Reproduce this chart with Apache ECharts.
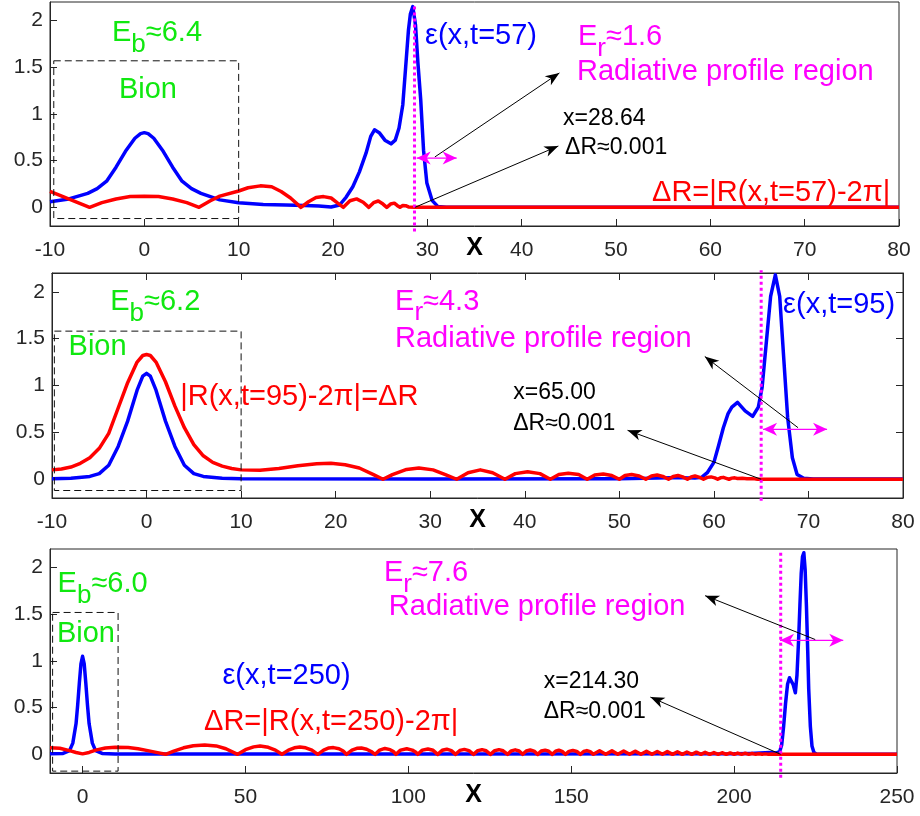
<!DOCTYPE html>
<html>
<head>
<meta charset="utf-8">
<script src="https://cdn.jsdelivr.net/npm/echarts@6/dist/echarts.min.js"></script>
<style>
  html, body { margin: 0; padding: 0; background: #fff; }
  #chart { width: 920px; height: 816px; }
</style>
</head>
<body>
<div id="chart"></div>
<script>
// ---- tick values ----
const yTicks = [0, 0.5, 1, 1.5, 2];
const xTicksLong = [0, 50, 100, 150, 200, 250];

// ---- t = 57 : energy density and |R - 2pi| ----
const eps57 = [
  [-10,0.06],[-8,0.09],[-6,0.15],[-5,0.2],[-4,0.28],[-3,0.43],[-2,0.6],[-1,0.74],[-0.4,0.79],[0,0.8],
  [0.4,0.79],[1,0.74],[2,0.6],[3,0.43],[4,0.28],[5,0.2],[6,0.15],[8,0.08],[10,0.05],[12.6,0.03],
  [15,0.025],[17,0.02],[18.5,0.015],[19.8,0.003],[20.7,0.025],[21.4,0.11],[22.1,0.22],[22.8,0.38],
  [23.5,0.58],[24.0,0.76],[24.4,0.83],[24.9,0.8],[25.5,0.72],[26.15,0.68],[26.6,0.72],[27.0,0.85],
  [27.4,1.1],[27.7,1.5],[28.0,1.9],[28.2,2.07],[28.46,2.15],[28.75,1.95],[29.0,1.55],[29.3,1.15],
  [29.6,0.61],[29.95,0.26],[30.5,0.075],[31.1,0.01],[32,0.002],[80,0.001]
];
const dR57 = [
  [-10,0.17],[-5.8,0],[-4.5,0.05],[-3,0.09],[-1.5,0.115],[0,0.12],[1.5,0.115],[3,0.09],[4.5,0.05],
  [5.8,0],[7,0.07],[8,0.12],[10,0.175],[11,0.21],[12.3,0.23],[13.5,0.22],[14.5,0.17],[15.5,0.1],
  [16.6,0],[17.4,0.06],[18.2,0.105],[19,0.115],[19.8,0.1],[20.5,0.045],[21.1,0],[21.8,0.07],
  [22.5,0.09],[23.2,0.055],[23.8,0],[24.3,0.05],[24.8,0.068],[25.3,0.035],[25.7,0],[26.1,0.035],
  [26.5,0.045],[26.8,0.02],[27.1,0],[27.4,0.02],[27.7,0.018],[28.0,0.004],[28.64,0.001],[80,0.001]
];

// ---- t = 95 ----
const eps95 = [
  [-10,0.005],[-8,0.01],[-6,0.03],[-5,0.06],[-4,0.15],[-3,0.35],[-2,0.62],[-1,0.95],[-0.4,1.1],[0,1.13],
  [0.4,1.1],[1,0.95],[2,0.62],[3,0.35],[4,0.15],[5,0.06],[6,0.03],[8,0.01],[10,0.005],[30,0.004],
  [50,0.005],[54,0.012],[56,0.018],[58,0.012],[58.7,0.02],[59.3,0.07],[60.0,0.18],[60.5,0.36],
  [61.0,0.55],[61.5,0.7],[61.9,0.77],[62.5,0.82],[63.3,0.73],[64.1,0.67],[64.7,0.77],[65.1,0.98],
  [65.6,1.52],[66.0,1.95],[66.5,2.18],[66.96,1.95],[67.4,1.27],[67.8,0.66],[68.3,0.23],[68.8,0.05],
  [69.5,0.01],[70.5,0.003],[80,0.002]
];
const dR95 = [
  [-10,0.1],[-9,0.11],[-8,0.13],[-7,0.17],[-6,0.23],[-5,0.33],[-4,0.49],[-3,0.76],[-2,1.03],[-1,1.25],
  [-0.4,1.32],[0,1.33],[0.4,1.32],[1,1.25],[2,1.04],[3,0.78],[4,0.55],[5,0.37],[6,0.25],[7,0.18],
  [8,0.14],[9,0.115],[10,0.1],[12,0.095],[14,0.115],[16,0.145],[18,0.165],[19.5,0.17],[21,0.155],
  [22.5,0.12],[24,0.05],[25,0],[26,0.05],[27.5,0.105],[28.8,0.12],[30.3,0.1],[31.6,0.05],[32.8,0],
  [34,0.07],[35.3,0.1],[36.6,0.07],[37.9,0],[39,0.06],[40.3,0.08],[41.6,0.06],[42.7,0],[43.6,0.05],
  [44.6,0.065],[45.7,0.05],[46.6,0],[47.4,0.045],[48.3,0.055],[49.2,0.04],[50,0],[50.6,0.04],
  [51.3,0.05],[52.1,0.035],[52.8,0],[53.4,0.035],[54,0.045],[54.6,0.03],[55.2,0],[55.7,0.03],
  [56.2,0.04],[56.7,0.025],[57.2,0],[57.6,0.025],[58,0.035],[58.5,0.02],[58.9,0],[59.3,0.02],
  [59.7,0.025],[60.1,0.015],[60.4,0],[60.7,0.015],[61,0.02],[61.3,0.01],[61.6,0],[61.9,0.012],
  [62.2,0.015],[62.5,0.008],[62.7,0],[63,0.01],[63.2,0.01],[63.5,0.005],[63.7,0],[64.0,0.006],
  [64.3,0.004],[64.6,0.001],[65,0.001],[80,0.001]
];

// ---- t = 250 ----
const eps250 = [
  [-10,0.005],[-6,0.01],[-4,0.04],[-3,0.12],[-2,0.33],[-1.5,0.53],[-1,0.76],[-0.5,0.97],[0,1.05],
  [0.5,0.97],[1,0.76],[1.5,0.53],[2,0.33],[3,0.12],[4,0.04],[6,0.01],[10,0.003],[100,0.003],
  [200,0.005],[205,0.01],[208,0.015],[211,0.02],[213,0.015],[214,0.03],[214.6,0.1],[215.2,0.3],
  [215.8,0.55],[216.4,0.75],[217,0.82],[217.5,0.84],[218.1,0.75],[218.8,0.66],[219.3,0.85],
  [219.8,1.23],[220.2,1.6],[220.6,1.94],[221,2.12],[221.4,2.16],[221.8,1.98],[222.2,1.59],
  [222.6,1.1],[222.9,0.7],[223.4,0.3],[223.9,0.09],[224.5,0.02],[225.2,0.003],[250,0.002]
];
const dR250 = [
  [-10,0.07],[-7,0.065],[-4,0.04],[-2,0.02],[0,0.005],[2,0.02],[4,0.045],[7,0.068],[10,0.075],
  [14,0.072],[17,0.06],[20,0.04],[23,0.018],[25.5,0],[28,0.035],[31,0.07],[34,0.092],[37.5,0.1],
  [41,0.09],[44,0.06],[47.6,0],[50,0.05],[52.5,0.08],[54.5,0.09],[57,0.075],[59.2,0.045],[61.2,0],
  [63.2,0.045],[65,0.07],[66.7,0.078],[68.5,0.07],[70.4,0.045],[72.2,0],[74,0.045],[75.6,0.068],
  [77,0.072],[78.7,0.06],[80,0.035],[81,0],[82.7,0.045],[84.2,0.065],[85.6,0.068],[87.2,0.055],
  [88.6,0.03],[89.8,0],[91.2,0.045],[92.8,0.063],[94.4,0.05],[95.4,0.03],[96.2,0],[97.6,0.045],
  [99.5,0.06],[101.2,0.045],[102.2,0.025],[102.9,0],[104.3,0.045],[106,0.057],[107.6,0.043],[109,0],
  [110.4,0.043],[111.8,0.055],[113.2,0.04],[114.5,0],[115.8,0.042],[117.2,0.053],[118.6,0.04],[120,0],
  [121.3,0.04],[122.6,0.05],[123.9,0.038],[125.2,0],[126.5,0.04],[127.8,0.05],[129.1,0.038],[130.5,0],
  [131.6,0.037],[132.8,0.048],[134,0.036],[135.1,0],[136.2,0.036],[137.4,0.046],[138.6,0.034],[139.7,0],
  [140.8,0.035],[142,0.045],[143.1,0.033],[144.2,0],[145.2,0.034],[146.2,0.044],[147.2,0.032],[148.2,0],
  [149.3,0.032],[150.5,0.042],[151.7,0.031],[152.8,0],[153.8,0.03],[154.8,0.04],[155.8,0.029],[156.8,0],
  [158.7,0.038],[160.6,0],[162.5,0.037],[164.3,0],[166.1,0.035],[167.9,0],[169.6,0.034],[171.4,0],
  [173.1,0.032],[174.8,0],[176.4,0.03],[178,0],[179.5,0.029],[181.1,0],[182.6,0.027],[184.1,0],
  [185.5,0.025],[187,0],[188.4,0.023],[189.8,0],[191.1,0.021],[192.5,0],[193.8,0.019],[195.1,0],
  [196.3,0.017],[197.6,0],[198.8,0.015],[200,0],[201.1,0.013],[202.3,0],[203.4,0.011],[204.5,0],
  [205.5,0.009],[206.6,0],[207.6,0.007],[208.6,0],[209.5,0.005],[210.5,0],[211.4,0.004],[212.3,0],
  [213.2,0.002],[214.3,0.001],[250,0.001]
];

// ---- styling ----
const FONT = "'Liberation Sans', Arial, Helvetica, sans-serif";
const INK = '#262626';
const BLUE = '#0000ff', RED = '#ff0000', MAGENTA = '#ff00ff', GREEN = '#10e810', BLACK = '#000000';

const panels = [
  { grid: { left: 50, top: 2, width: 849, height: 224 }, xMin: -10, xMax: 80, step: 10, eps: eps57, dR: dR57, box: false },
  { grid: { left: 52, top: 273, width: 851, height: 225 }, xMin: -10, xMax: 80, step: 10, eps: eps95, dR: dR95, box: true },
  { grid: { left: 50, top: 549, width: 847, height: 224 }, xMin: -10, xMax: 250, ticks: xTicksLong, eps: eps250, dR: dR250, box: false }
];

const chart = echarts.init(document.getElementById('chart'), null, { renderer: 'canvas' });

const grids = [], xAxes = [], yAxes = [], series = [];
const tickStyle = { inside: true, length: 7, lineStyle: { color: INK, width: 1 } };
const lineStyleAxis = { show: true, onZero: false, lineStyle: { color: INK, width: 1 } };

panels.forEach((p, i) => {
  grids.push(Object.assign({ show: true, borderColor: INK, borderWidth: 1, backgroundColor: 'transparent',
    containLabel: false, outerBoundsMode: 'none' }, p.grid));
  const xa = {
    gridIndex: i, type: 'value', min: p.xMin, max: p.xMax, position: 'bottom',
    axisLine: lineStyleAxis, splitLine: { show: false },
    axisTick: Object.assign({}, tickStyle),
    axisLabel: { color: INK, fontSize: 21, fontFamily: FONT, margin: 14 },
    name: 'X', nameLocation: 'middle', nameGap: 8, nameMoveOverlap: false,
    nameTextStyle: { fontSize: 25, fontWeight: 'bold', color: BLACK, fontFamily: FONT,
      verticalAlign: 'top', lineHeight: 28 }
  };
  if (p.step) { xa.interval = p.step; }
  if (p.ticks) {
    xa.axisTick.customValues = p.ticks;
    xa.axisLabel.customValues = p.ticks;
  }
  xAxes.push(xa);
  yAxes.push({
    gridIndex: i, type: 'value', min: -0.2, max: 2.2, position: 'left',
    axisLine: lineStyleAxis, splitLine: { show: false },
    axisTick: Object.assign({ customValues: yTicks }, tickStyle),
    axisLabel: { customValues: yTicks, color: INK, fontSize: 21, fontFamily: FONT, margin: 7 }
  });
  series.push({
    type: 'line', xAxisIndex: i, yAxisIndex: i, data: p.eps, showSymbol: false, symbol: 'none',
    lineStyle: { color: BLUE, width: 3.5, join: 'round' }, z: 2, silent: true
  });
  series.push({
    type: 'line', xAxisIndex: i, yAxisIndex: i, data: p.dR, showSymbol: false, symbol: 'none',
    lineStyle: { color: RED, width: 3.5, join: 'round' }, z: 3, silent: true
  });
});

// mirrored ticks on the framed middle panel
panels.forEach((p, i) => {
  if (!p.box) return;
  xAxes.push({
    gridIndex: i, type: 'value', min: p.xMin, max: p.xMax, interval: p.step, position: 'top',
    axisLine: lineStyleAxis, splitLine: { show: false }, axisTick: Object.assign({}, tickStyle),
    axisLabel: { show: false }
  });
  yAxes.push({
    gridIndex: i, type: 'value', min: -0.2, max: 2.2, position: 'right',
    axisLine: lineStyleAxis, splitLine: { show: false },
    axisTick: Object.assign({ customValues: yTicks }, tickStyle),
    axisLabel: { show: false }
  });
});

chart.setOption({
  animation: false,
  backgroundColor: '#ffffff',
  grid: grids, xAxis: xAxes, yAxis: yAxes, series: series
});

// ---- annotations (data coordinates of each panel) ----
const notes = [
  {
    vline: [28.64, -0.26, 2.18],
    box: [-9.6, -0.12, 10, 1.57],
    texts: [
      { at: [-3.43, 1.864], t: '{g|E}{gs|b}{g|≈6.4}' },
      { at: [-2.69, 1.254], t: '{g|Bion}' },
      { at: [29.75, 1.832], t: '{b|ε(x,t=57)}' },
      { at: [45.97, 1.821], t: '{p|E}{ps|r}{p|≈1.6}' },
      { at: [45.87, 1.446], t: '{p|Radiative profile region}' },
      { at: [44.38, 0.911], t: '{k|x=28.64}' },
      { at: [44.6, 0.6], t: '{k|ΔR≈0.001}' },
      { at: [53.82, 0.15], t: '{r|ΔR=|R(x,t=57)-2π|}' }
    ],
    arrows: [[30.8, 0.54, 44.0, 1.44], [28.69, 0, 43.89, 0.657]],
    span: [28.87, 33.11, 0.528]
  },
  {
    vline: [65.0, -0.23, 2.23],
    box: [-9.75, -0.12, 10, 1.58],
    texts: [
      { at: [-3.84, 1.883], t: '{g|E}{gs|b}{g|≈6.2}' },
      { at: [-8.25, 1.406], t: '{g|Bion}' },
      { at: [3.56, 0.874], t: '{r||R(x,t=95)-2π|=ΔR}' },
      { at: [26.28, 1.888], t: '{p|E}{ps|r}{p|≈4.3}' },
      { at: [26.28, 1.491], t: '{p|Radiative profile region}' },
      { at: [67.32, 1.856], t: '{b|ε(x,t=95)}' },
      { at: [38.78, 0.883], t: '{k|x=65.00}' },
      { at: [38.78, 0.561], t: '{k|ΔR≈0.001}' }
    ],
    arrows: [[68.9, 0.55, 59.04, 1.309], [65.0, 0, 50.87, 0.522]],
    span: [65.2, 71.97, 0.533]
  },
  {
    vline: [214.3, -0.25, 2.19],
    box: [-9.2, -0.18, 10.9, 1.52],
    texts: [
      { at: [-7.67, 1.818], t: '{g|E}{gs|b}{g|≈6.0}' },
      { at: [-7.88, 1.283], t: '{g|Bion}' },
      { at: [42.93, 0.837], t: '{b|ε(x,t=250)}' },
      { at: [37.29, 0.339], t: '{r|ΔR=|R(x,t=250)-2π|}' },
      { at: [92.49, 1.936], t: '{p|E}{ps|r}{p|≈7.6}' },
      { at: [94.02, 1.569], t: '{p|Radiative profile region}' },
      { at: [141.55, 0.741], t: '{k|x=214.30}' },
      { at: [141.55, 0.42], t: '{k|ΔR≈0.001}' }
    ],
    arrows: [[224.9, 1.23, 191.1, 1.70], [214.3, 0, 174.3, 0.613]],
    span: [214.1, 233.5, 1.222]
  }
];

function tok(color, size, sub) {
  const s = { fill: color, fontSize: size, fontFamily: FONT, lineHeight: 30, verticalAlign: 'top' };
  if (sub) { s.padding = [13, 0, 0, 0]; }
  return s;
}
const rich = {
  g: tok(GREEN, 29), gs: tok(GREEN, 26, true),
  p: tok(MAGENTA, 29), ps: tok(MAGENTA, 26, true),
  b: tok(BLUE, 29), r: tok(RED, 29), k: tok(BLACK, 23)
};

function head(tx, ty, fx, fy, len, half, color) {
  const dx = tx - fx, dy = ty - fy, d = Math.hypot(dx, dy);
  const ux = dx / d, uy = dy / d, nx = -uy, ny = ux;
  return {
    type: 'polygon', silent: true, z: 120,
    shape: { points: [
      [tx, ty],
      [tx - len * ux + half * nx, ty - len * uy + half * ny],
      [tx - 0.72 * len * ux, ty - 0.72 * len * uy],
      [tx - len * ux - half * nx, ty - len * uy - half * ny]
    ] },
    style: { fill: color, stroke: 'none' }
  };
}

const elements = [];
notes.forEach((n, i) => {
  const px = (x, y) => chart.convertToPixel({ xAxisIndex: i, yAxisIndex: i }, [x, y]);

  // dashed frame around the bion
  const b0 = px(n.box[0], n.box[1]), b1 = px(n.box[2], n.box[3]);
  elements.push({
    type: 'rect', silent: true, z: 110,
    shape: { x: Math.min(b0[0], b1[0]), y: Math.min(b0[1], b1[1]),
             width: Math.abs(b1[0] - b0[0]), height: Math.abs(b1[1] - b0[1]) },
    style: { fill: 'none', stroke: '#111111', lineWidth: 1, lineDash: [7, 4] }
  });

  // dotted marker of the radiation front
  const v0 = px(n.vline[0], n.vline[1]), v1 = px(n.vline[0], n.vline[2]);
  elements.push({
    type: 'line', silent: true, z: 115,
    shape: { x1: v0[0], y1: v0[1], x2: v1[0], y2: v1[1] },
    style: { stroke: MAGENTA, lineWidth: 3, lineDash: [3, 3] }
  });

  // two-headed span arrow
  const s0 = px(n.span[0], n.span[2]), s1 = px(n.span[1], n.span[2]);
  elements.push({
    type: 'line', silent: true, z: 118,
    shape: { x1: s0[0], y1: s0[1], x2: s1[0], y2: s1[1] },
    style: { stroke: MAGENTA, lineWidth: 1.2 }
  });
  elements.push(head(s0[0], s0[1], s1[0], s1[1], 14, 6.5, MAGENTA));
  elements.push(head(s1[0], s1[1], s0[0], s0[1], 14, 6.5, MAGENTA));

  // pointer arrows
  n.arrows.forEach(a => {
    const f = px(a[0], a[1]), t = px(a[2], a[3]);
    elements.push({
      type: 'line', silent: true, z: 118,
      shape: { x1: f[0], y1: f[1], x2: t[0], y2: t[1] },
      style: { stroke: BLACK, lineWidth: 1 }
    });
    elements.push(head(t[0], t[1], f[0], f[1], 14, 5.5, BLACK));
  });

  // labels
  n.texts.forEach(tx => {
    const p = px(tx.at[0], tx.at[1]);
    elements.push({
      type: 'text', silent: true, z: 130,
      x: p[0], y: p[1] - 15,
      style: {
        text: tx.t, rich: rich, font: '29px ' + FONT,
        align: 'left', verticalAlign: 'top', textAlign: 'left', textVerticalAlign: 'top'
      }
    });
  });
});

chart.setOption({ graphic: { elements: elements } });
</script>
</body>
</html>
